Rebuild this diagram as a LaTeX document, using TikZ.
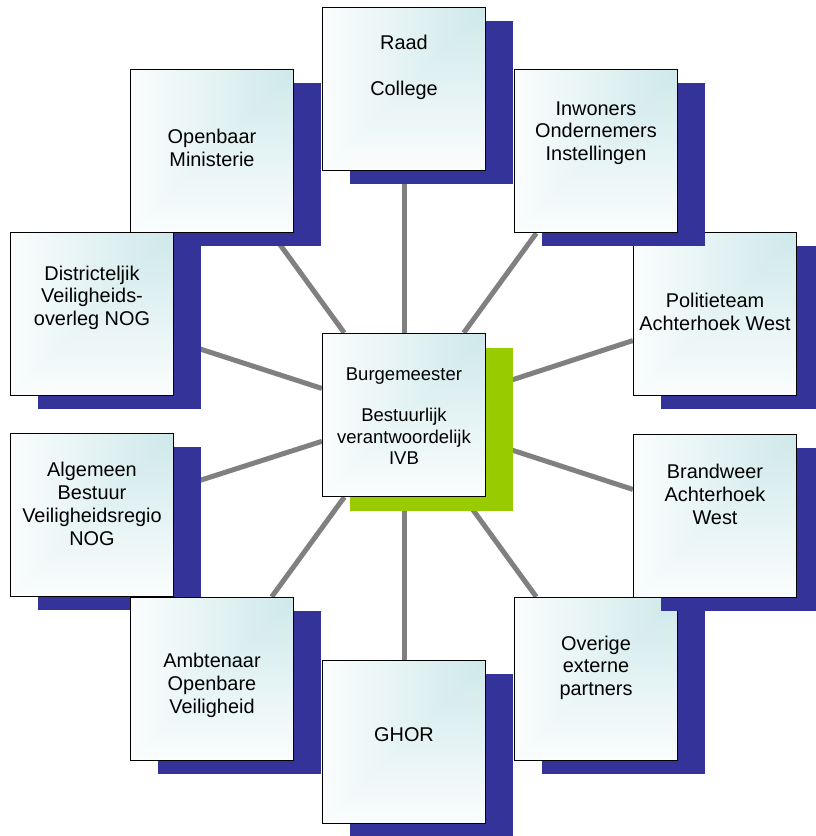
\documentclass[tikz,border=0pt]{standalone}
\usepackage{fontspec}
\setmainfont{Liberation Sans}
\usepackage{tikz}
\usetikzlibrary{shadows,backgrounds}
\definecolor{ibblue}{RGB}{51,51,153}
\definecolor{ibgreen}{RGB}{153,204,0}
\definecolor{spokegray}{RGB}{128,128,128}
\pgfdeclarefunctionalshading{cornerfade}{\pgfpointorigin}{\pgfpoint{100bp}{100bp}}{}{
  100 exch sub exch 100 exch sub
  2 copy lt {exch} if pop
  100 div 0.8 div
  dup 1 gt {pop 1} if
  dup 0 lt {pop 0} if
  dup 0.28 mul 0.72 add exch
  dup 0.13 mul 0.87 add exch
  0.12 mul 0.88 add
}
\tikzset{
  boxbase/.style={draw=black, line width=1.3pt, shade, shading=cornerfade,
    minimum size=163pt, inner sep=0pt},
  ibbox/.style={boxbase, general shadow={fill=ibblue, shadow xshift=27pt, shadow yshift=-13pt}},
  midbox/.style={boxbase, general shadow={fill=ibgreen, shadow xshift=27pt, shadow yshift=-14pt}},
  spoke/.style={draw=spokegray, line width=5pt},
  ibtext/.style={align=center, anchor=base, inner sep=0pt, font=\fontsize{19.9}{22.9}\selectfont},
  midtext/.style={ibtext, font=\fontsize{18.5}{21.3}\selectfont}
}

\begin{document}
\begin{tikzpicture}[x=1pt,y=-1pt]
\useasboundingbox (0,0) rectangle (815,836);
% boxes, counterclockwise
\node[midbox] (mid) at (404,415) {};
\node[ibbox] (raad) at (404,89) {};
\node[ibbox] (om) at (212,151) {};
\node[ibbox] (dvo) at (92,314) {};
\node[ibbox] (ab) at (92,515) {};
\node[ibbox] (aov) at (212,679) {};
\node[ibbox] (ghor) at (404,742) {};
\node[ibbox] (overig) at (596,679) {};
\node[ibbox] (brw) at (715,516) {};
\node[ibbox] (pol) at (715,314) {};
\node[ibbox] (inw) at (596,151) {};
% spokes under the boxes
\begin{scope}[on background layer]
\foreach \n in {raad,om,dvo,ab,aov,ghor,overig,brw,pol,inw}
  \draw[spoke] (mid) -- (\n);
\end{scope}
% texts (anchored at the last line)
\node[midtext] (midtxt) at (404,464.3) {Burgemeester\\[20.4pt]Bestuurlijk\\verantwoordelijk\\IVB};
\node[ibtext] (raadtxt) at (404,95) {Raad\\[23.1pt]College};
\node[ibtext] (omtxt) at (212,166) {Openbaar\\Ministerie};
\node[ibtext] (dvotxt) at (92,325.8) {Districteljik\\Veiligheids-\\overleg NOG};
\node[ibtext] (abtxt) at (92,545.4) {Algemeen\\Bestuur\\Veiligheidsregio\\NOG};
\node[ibtext] (aovtxt) at (212,713.1) {Ambtenaar\\Openbare\\Veiligheid};
\node[ibtext] (ghortxt) at (404,741.7) {GHOR};
\node[ibtext] (overigtxt) at (596,695.8) {Overige\\externe\\partners};
\node[ibtext] (brwtxt) at (715,524.1) {Brandweer\\Achterhoek\\West};
\node[ibtext] (poltxt) at (715,330.5) {Politieteam\\Achterhoek West};
\node[ibtext] (inwtxt) at (596,160.8) {Inwoners\\Ondernemers\\Instellingen};
\end{tikzpicture}
\end{document}
